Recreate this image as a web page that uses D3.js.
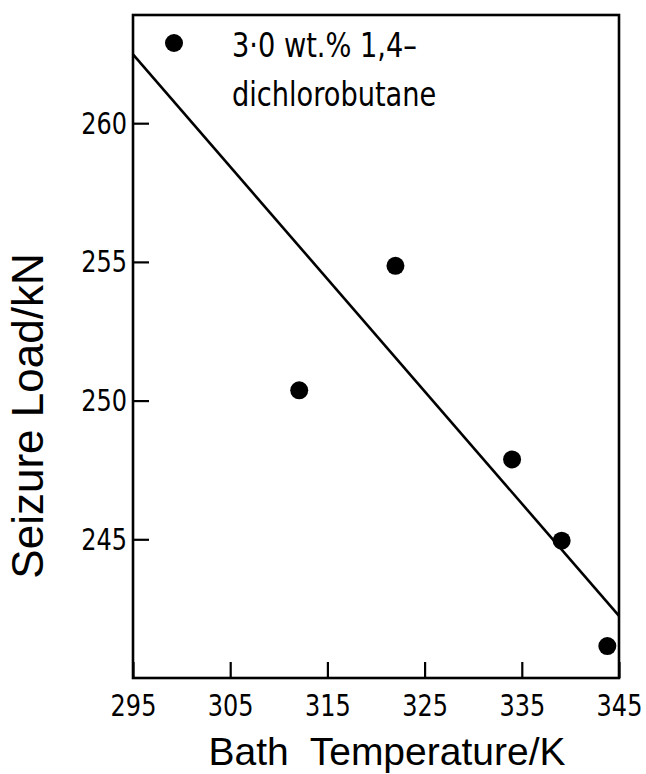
<!DOCTYPE html>
<html>
<head>
<meta charset="utf-8">
<script src="https://cdn.jsdelivr.net/npm/d3@7/dist/d3.min.js"></script>
<style>
  body { margin: 0; background: #fff; }
  svg { display: block; }
  .tick text { font-family: "DejaVu Sans Condensed", "DejaVu Sans", sans-serif; font-size: 31px; fill: #000; }
  .title { font-family: "Liberation Sans", Arial, sans-serif; fill: #000; }
  .legend { font-family: "DejaVu Sans Condensed", "DejaVu Sans", sans-serif; font-size: 34px; fill: #000; }
</style>
</head>
<body>
<div id="chart"></div>
<script>
// data
var temps = [312.1, 322.0, 334.0, 339.1, 343.8];
var loads = [250.37, 254.86, 247.88, 244.95, 241.15];
var fitX = [295, 345];
var fitY = [262.48, 242.24];
var xTicks = [295, 305, 315, 325, 335, 345];
var yTicks = [245, 250, 255, 260];
var legendLines = ['3\u00b70 wt.% 1,4\u2013', 'dichlorobutane'];

var width = 646, height = 774;
var margin = {left: 133, right: 27, top: 15, bottom: 96};
var w = width - margin.left - margin.right;
var h = height - margin.top - margin.bottom;

var svg = d3.select('#chart').append('svg')
    .attr('width', width)
    .attr('height', height);

var g = svg.append('g')
    .attr('transform', 'translate(' + margin.left + ',' + margin.top + ')');

var x = d3.scaleLinear().domain([295, 345]).range([0, w]);
var y = d3.scaleLinear().domain([240, 263.9]).range([h, 0]);

var xAxis = g.append('g')
    .attr('transform', 'translate(0,' + h + ')')
    .call(d3.axisBottom(x).tickValues(xTicks).tickFormat(d3.format('d'))
        .tickSizeInner(-16).tickSizeOuter(0).tickPadding(16));
var yAxis = g.append('g')
    .call(d3.axisLeft(y).tickValues(yTicks).tickFormat(d3.format('d'))
        .tickSizeInner(-16).tickSizeOuter(0).tickPadding(7));

[xAxis, yAxis].forEach(function(a) {
    a.select('.domain').remove();
    a.selectAll('.tick line').attr('stroke', '#000').attr('stroke-width', 2.2);
    // narrow lettering like the drawing stencil
    a.selectAll('.tick text').attr('transform', 'scale(0.86,1)');
});

// frame
g.append('rect')
    .attr('width', w)
    .attr('height', h)
    .attr('fill', 'none')
    .attr('stroke', '#000')
    .attr('stroke-width', 2.6);

// fitted line
g.append('line')
    .attr('x1', x(fitX[0])).attr('y1', y(fitY[0]))
    .attr('x2', x(fitX[1])).attr('y2', y(fitY[1]))
    .attr('stroke', '#000')
    .attr('stroke-width', 2.6);

g.selectAll('circle.pt')
    .data(temps)
    .enter().append('circle')
    .attr('class', 'pt')
    .attr('cx', function(d) { return x(d); })
    .attr('cy', function(d, i) { return y(loads[i]); })
    .attr('r', 9)
    .attr('fill', '#000');

// legend
svg.append('circle')
    .attr('cx', 174).attr('cy', 43).attr('r', 9).attr('fill', '#000');
svg.selectAll('text.legend')
    .data(legendLines)
    .enter().append('text')
    .attr('class', 'legend')
    .attr('transform', function(d, i) { return 'translate(232,' + (57 + i * 49) + ') scale(0.89,1)'; })
    .text(function(d) { return d; });

// axis titles
svg.append('text')
    .attr('class', 'title')
    .attr('x', 387)
    .attr('y', 765)
    .attr('text-anchor', 'middle')
    .attr('font-size', 39)
    .attr('xml:space', 'preserve')
    .text('Bath  Temperature/K');

svg.append('text')
    .attr('class', 'title')
    .attr('transform', 'translate(43,416) rotate(-90)')
    .attr('text-anchor', 'middle')
    .attr('font-size', 44)
    .text('Seizure Load/kN');
</script>
</body>
</html>
